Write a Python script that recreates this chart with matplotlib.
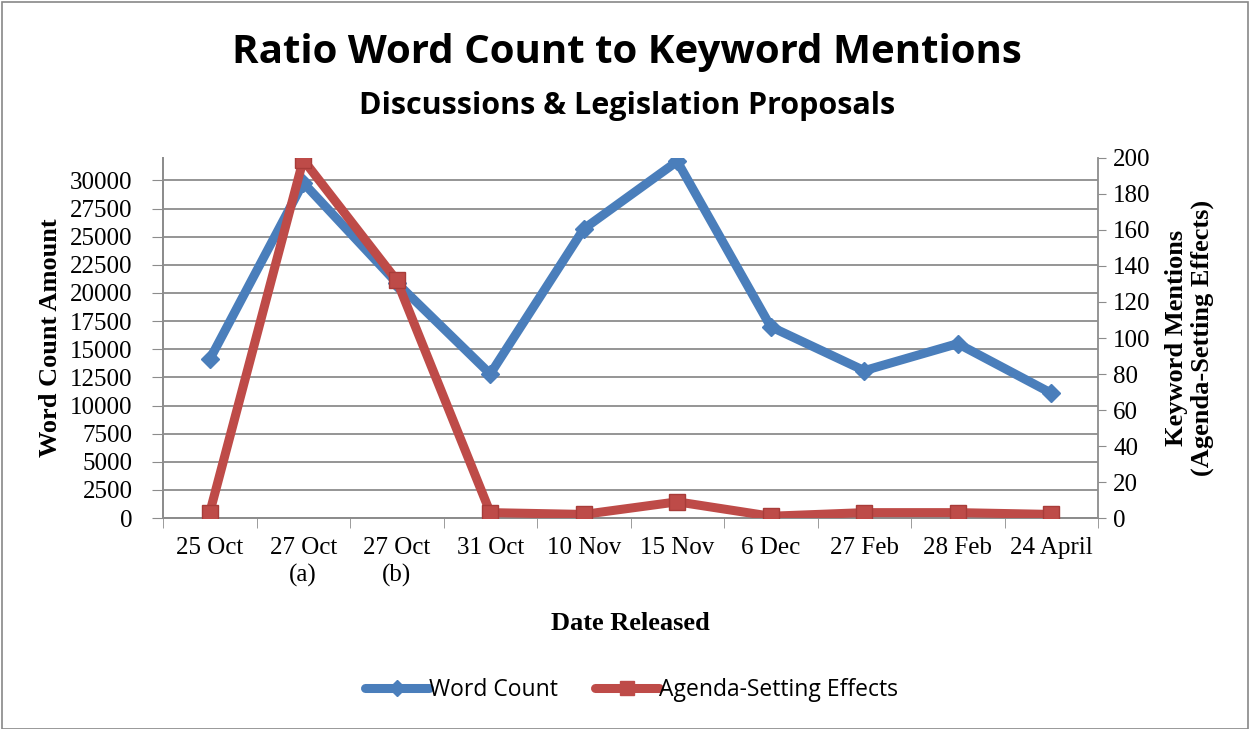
import matplotlib
matplotlib.use("Agg")
import matplotlib.pyplot as plt
from matplotlib.patches import Rectangle
import numpy as np

categories = ["25 Oct", "27 Oct\n(a)", "27 Oct\n(b)", "31 Oct", "10 Nov",
              "15 Nov", "6 Dec", "27 Feb", "28 Feb", "24 April"]
word_count = [14100, 29800, 20900, 12800, 25700, 31700, 17000, 13100, 15500, 11100]
agenda_effects = [3, 199, 132, 3, 2, 9, 1, 3, 3, 2]
left_ticks = list(range(0, 30001, 2500))
right_ticks = list(range(0, 201, 20))

blue = "#4A7EBB"
red = "#BE4B48"
grid_c = "#8C8C8C"
serif = "Liberation Serif"
sans = ["Open Sans", "DejaVu Sans"]

fig = plt.figure(figsize=(12.5, 7.29), dpi=100)
fig.patches.append(Rectangle((0.0015, 0.0), 0.997, 0.997, transform=fig.transFigure,
                             fill=False, edgecolor="#888888", linewidth=1.2))

ax = fig.add_axes([0.1304, 0.2894, 0.7480, 0.4939])
ax2 = ax.twinx()

x = np.arange(len(categories))
ax.plot(x, word_count, color=blue, linewidth=6.5, marker="D", markersize=9,
        markerfacecolor=blue, markeredgecolor=blue, solid_joinstyle="miter", zorder=3)
ax2.plot(x, agenda_effects, color=red, linewidth=6.5, marker="s", markersize=11,
         markerfacecolor=red, markeredgecolor="#A83C39", solid_joinstyle="miter", zorder=3)

ax.set_xlim(-0.5, len(categories) - 0.5)
ax.set_ylim(0, 32000)
ax2.set_ylim(0, 200)
ax.set_yticks(left_ticks)
ax.set_yticklabels([str(v) for v in left_ticks], fontfamily=serif, fontsize=18)
ax2.set_yticks(right_ticks)
ax2.set_yticklabels([str(v) for v in right_ticks], fontfamily=serif, fontsize=18)
ax.set_xticks(x)
ax.set_xticklabels(categories, fontfamily=serif, fontsize=18, linespacing=1.25)
ax.set_xticks(np.arange(-0.5, len(categories)), minor=True)
ax.tick_params(axis="x", which="major", length=0, pad=14)
ax.tick_params(axis="x", which="minor", length=7, color=grid_c, direction="out")
ax.tick_params(axis="y", length=8, color=grid_c, pad=14)
ax2.tick_params(axis="y", length=6, color=grid_c, pad=5)

ax.grid(axis="y", color=grid_c, linewidth=1.3)
ax.set_axisbelow(True)
for a in (ax, ax2):
    a.spines["top"].set_visible(False)
    for s in ("left", "right", "bottom"):
        a.spines[s].set_color(grid_c)
        a.spines[s].set_linewidth(1.3)
ax.spines["right"].set_visible(False)

ax.set_ylabel("Word Count Amount", fontfamily=serif, fontsize=19, fontweight="bold", labelpad=6)
ax.set_xlabel("Date Released", fontfamily=serif, fontsize=19, fontweight="bold", labelpad=18)
ax2.set_ylabel("Keyword Mentions\n(Agenda-Setting Effects)", fontfamily=serif, fontsize=19,
               fontweight="bold", labelpad=10, linespacing=1.15)

fig.text(0.5015, 0.928, "Ratio Word Count to Keyword Mentions", ha="center", va="center",
         fontfamily=sans, fontsize=29, fontweight="bold")
fig.text(0.5015, 0.855, "Discussions & Legislation Proposals", ha="center", va="center",
         fontfamily=sans, fontsize=22, fontweight="bold")

h1, = ax.plot([], [], color=blue, linewidth=6.5, marker="D", markersize=8,
              solid_capstyle="round")
h2, = ax.plot([], [], color=red, linewidth=6.5, marker="s", markersize=10,
              solid_capstyle="round")
fig.legend([h1, h2], ["Word Count", "Agenda-Setting Effects"], loc="center",
           bbox_to_anchor=(0.505, 0.053), ncol=2, frameon=False,
           prop={"family": sans, "size": 16.5}, handlelength=2.8, handletextpad=0.0,
           columnspacing=1.6)

fig.savefig("out.png", dpi=100)
